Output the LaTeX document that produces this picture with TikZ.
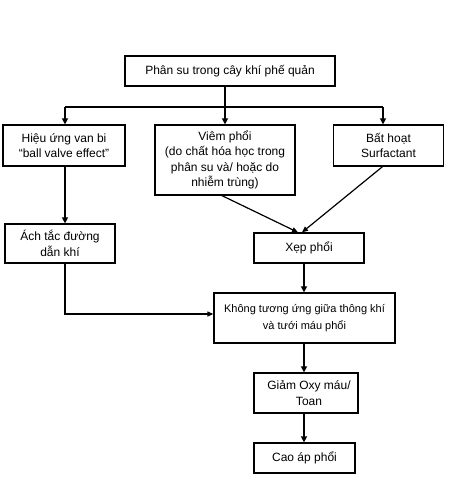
\documentclass[tikz,border=0pt]{standalone}
\usepackage{fontspec}
\setmainfont{Liberation Sans}
\usetikzlibrary{arrows.meta}
\begin{document}
\begin{tikzpicture}[x=1pt,y=-1pt,
  box/.style={draw, line width=1.3pt, align=center, inner sep=0pt, font=\fontsize{12}{15.5}\selectfont},
  arr/.style={line width=1.6pt, -{Triangle[length=6pt,width=6pt]}},
  thin arr/.style={line width=1.2pt, -{Triangle[length=6pt,width=5pt]}},
  ln/.style={line width=1.6pt}]
\useasboundingbox[fill=white] (0,0) rectangle (449,482);
\node[box, minimum width=210pt, minimum height=30pt] (top) at (230,71) {Phân su trong cây khí phế quản};
\node[box, minimum width=122pt, minimum height=41pt] (left) at (64,145.5) {Hiệu ứng van bi\\``ball valve effect''};
\node[box, minimum width=140pt, minimum height=70pt] (mid) at (225,160) {Viêm phổi\\(do chất hóa học trong\\phân su và/ hoặc do\\nhiễm trùng)};
\node[box, minimum width=110pt, minimum height=41pt] (right) at (388.5,145.5) {Bất hoạt\\Surfactant};
\node[box, minimum width=110pt, minimum height=39pt] (acht) at (60,243.5) {Ách tắc đường\\dẫn khí};
\node[box, minimum width=110pt, minimum height=30pt] (xep) at (309,248) {Xẹp phổi};
\node[box, minimum width=181pt, minimum height=50pt, font=\fontsize{11}{16.5}\selectfont] (khong) at (304.5,318) {Không tương ứng giữa thông khí\\và tưới máu phổi};
\node[box, minimum width=104pt, minimum height=40pt] (giam) at (306,393) {\hspace*{6pt}Giảm Oxy máu/\\\hspace*{6pt}Toan};
\node[box, minimum width=101pt, minimum height=30pt] (cao) at (304.5,458) {Cao áp phổi};
\coordinate (j) at (225,107);
\coordinate (jl) at (65,107);
\coordinate (jr) at (383,107);
\draw[ln] (top.south -| j) -- (j);
\draw[ln] (jl) -- (jr);
\draw[arr] (j) -- (mid.north);
\draw[arr] (jl) -- (jl |- left.north);
\draw[arr] (jr) -- (jr |- right.north);
\draw[arr] (jl |- left.south) -- (jl |- acht.north);
\draw[thin arr] ([xshift=-3pt]mid.south) -- ([xshift=-11pt]xep.north);
\draw[thin arr] ([xshift=-6pt]right.south) -- ([xshift=-7pt]xep.north);
\draw[arr] ([xshift=-5pt]xep.south) -- ([xshift=-5pt]xep.south |- khong.north);
\draw[line width=1.2pt, -{Triangle[length=6pt,width=5pt]}] (jl |- acht.south) -- (jl |- 0,314) -- (khong.west |- 0,314);
\draw[arr] ([xshift=-2pt]giam.north |- khong.south) -- ([xshift=-2pt]giam.north);
\draw[arr] ([xshift=-2pt]giam.south) -- ([xshift=-2pt]giam.south |- cao.north);
\end{tikzpicture}
\end{document}
